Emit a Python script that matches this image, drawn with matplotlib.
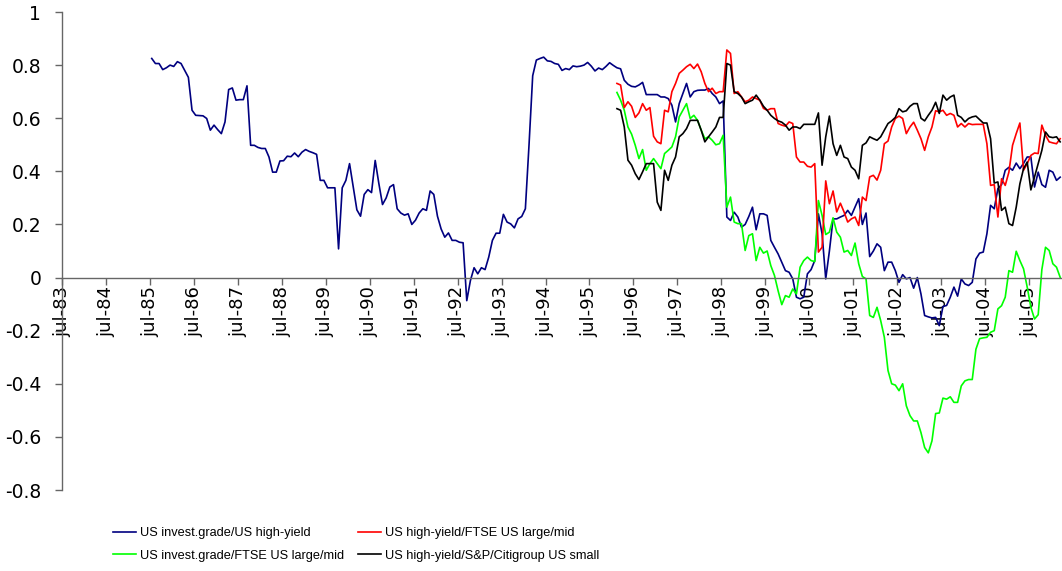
import numpy as np
import matplotlib
matplotlib.use("Agg")
import matplotlib.pyplot as plt

plt.rcParams["font.family"] = ["Liberation Sans", "DejaVu Sans"]

# months counted from jul-83 (index 0)
tick_labels = ["jul-%02d" % (y % 100) for y in range(83, 106)]

ig_hy_start = 24  # jul-85
ig_hy = [
    .825, .806, .806, .783, .79, .80, .795, .813, .806, .78, .754, .63, .611, .61, .609, .599,
    .555, .574, .557, .542, .586, .708, .714, .668, .67, .67, .722, .498, .498, .49, .486, .486,
    .454, .397, .397, .439, .44, .457, .455, .469, .455, .472,
    .482, .475, .47, .464, .366, .366, .338, .338, .338, .108, .338, .366, .429, .341, .255, .231,
    .313, .331, .32, .441, .354, .275, .30, .341, .35, .259, .243, .235, .24, .20, .216, .243,
    .259, .253, .326, .313, .231, .183, .152, .168, .14, .14, .133, .131,
    -.087, -.011, .037, .014, .037, .03, .077, .14, .167, .167, .238, .209, .202, .187, .221, .23,
    .259, .50, .76, .819, .825, .83, .816, .814, .806, .803, .78, .787, .783, .797, .794, .796,
    .80, .81, .796, .778, .789, .783, .795, .809, .799, .79, .786,
    .743, .728, .72, .718, .725, .735, .689, .689, .689, .689, .68, .68, .674, .649, .586, .655,
    .693, .731, .68, .70, .705, .706, .706, .712, .693, .68, .655, .665, .228, .215, .246, .228,
    .19, .20, .23, .265, .18, .24, .24, .234,
    .14, .114, .089, .058, .026, .02, -.005, -.074, -.08, -.074, .014, .03, .064, .24, .165, -.005,
    .10, .221, .221, .228, .234, .253, .234, .265, .297, .20, .243, .079, .10, .127, .114, .026,
    .058, .058, .026, -.018, .011, -.005, 0, -.04,
    0, -.062, -.143, -.148, -.152, -.15, -.181, -.109, -.105, -.074, -.036, -.07, -.005, -.024,
    -.03, -.018, .07, .092, .096, .165, .272, .259, .335, .35, .404, .415, .404, .431, .41, .43,
    .454, .454, .341, .397, .35, .34, .404, .397, .366, .378,
]

others_start = 151  # oct-95
hy_ftse = [
    .731, .725, .64, .662, .645, .603, .62, .655, .63, .64, .532, .511, .504, .63, .624, .70,
    .731, .769, .781, .794, .803, .787, .804, .775, .731, .70, .713, .693, .70, .70, .857, .844,
    .693, .70, .68, .662, .668, .68, .674, .668, .637, .63,
    .636, .636, .58, .574, .57, .586, .58, .454, .435, .435, .419, .416, .429, .096, .114, .364,
    .278, .326, .247, .28, .247, .209, .221, .228, .196, .303, .29, .379, .385, .367, .404, .504,
    .514, .567, .599, .608, .599, .542, .567, .585,
    .555, .523, .479, .53, .567, .628, .624, .63, .611, .618, .611, .567, .58, .567, .58, .576,
    .577, .577, .577, .504, .347, .35, .228, .372, .347, .397, .498, .542, .582, .404, .429, .46,
    .469, .467, .574, .536, .511, .507, .504, .523,
]

ig_ftse = [
    .697, .668, .63, .567, .54, .498, .448, .482, .404, .429, .448, .429, .41, .467, .479, .492,
    .53, .605, .63, .655, .599, .611, .592, .555, .523, .53, .517, .50, .504, .536, .265, .303,
    .209, .203, .203, .102, .158, .165, .064, .114, .092, .10,
    .045, .008, -.05, -.102, -.068, -.074, -.043, -.062, .039, .064, .077, .064, .06, .29, .234,
    .162, .171, .225, .171, .152, .096, .102, .083, .13, .052, .004, -.005, -.143, -.15, -.112,
    -.162, -.225, -.35, -.40, -.405, -.426, -.40, -.483, -.52, -.54,
    -.54, -.584, -.64, -.66, -.615, -.512, -.51, -.454, -.458, -.449, -.47, -.47, -.408, -.389,
    -.384, -.384, -.27, -.23, -.227, -.225, -.206, -.2, -.118, -.106, -.074, .026, .02, .099,
    .064, .033, -.036, -.112, -.156, -.14, .03, .114, .102, .052, .039, .001,
]

hy_small = [
    .636, .63, .567, .442, .423, .391, .369, .398, .429, .429, .429, .284, .253, .404, .366, .423,
    .454, .53, .542, .561, .592, .592, .592, .555, .511, .53, .548, .567, .603, .603, .806, .80,
    .70, .693, .68, .655, .662, .668, .687, .668, .645, .63,
    .611, .599, .59, .585, .574, .555, .567, .567, .561, .577, .577, .577, .577, .62, .423, .53,
    .608, .504, .46, .498, .454, .448, .416, .404, .372, .498, .507, .53, .523, .517, .53, .555,
    .58, .59, .603, .636, .624, .628, .645, .655,
    .655, .60, .59, .611, .63, .66, .618, .687, .668, .68, .687, .611, .603, .586, .599, .605,
    .608, .595, .582, .582, .523, .356, .36, .253, .265, .203, .196, .265, .353, .41, .435, .33,
    .379, .429, .479, .548, .53, .527, .53, .511,
]

series = [
    ("US invest.grade/US high-yield", ig_hy_start, ig_hy, "#000080"),
    ("US invest.grade/FTSE US large/mid", others_start, ig_ftse, "#00ff00"),
    ("US high-yield/FTSE US large/mid", others_start, hy_ftse, "#ff0000"),
    ("US high-yield/S&P/Citigroup US small", others_start, hy_small, "#000000"),
]

fig = plt.figure(figsize=(10.62, 5.71), dpi=100)
ax = fig.add_axes([62 / 1062, 81 / 571, 1 - 62 / 1062, 478 / 571])

for label, start, values, color in series:
    x = start + 0.5 + np.arange(len(values))
    ax.plot(x, values, color=color, lw=1.2, label=label)

ax.set_xlim(0, 273)
ax.set_ylim(-0.8, 1)
ax.set_yticks(np.arange(-0.8, 1.01, 0.2))
ax.set_yticklabels(["-0.8", "-0.6", "-0.4", "-0.2", "0", "0.2", "0.4", "0.6", "0.8", "1"])
ax.set_xticks(np.arange(0, 12 * len(tick_labels), 12))
ax.set_xticklabels(tick_labels)

for s in ("top", "right"):
    ax.spines[s].set_visible(False)
ax.spines["bottom"].set_position(("data", 0))
for s in ("left", "bottom"):
    ax.spines[s].set_color("#666666")
    ax.spines[s].set_linewidth(1.0)
ax.tick_params(axis="both", direction="out", length=5, width=1.0, color="#666666")
ax.tick_params(axis="y", pad=10, labelsize=13.5)
ax.tick_params(axis="x", pad=1, labelrotation=90, labelsize=13)
plt.setp(ax.get_yticklabels(), family="DejaVu Sans")
plt.setp(ax.get_xticklabels(), family="DejaVu Sans", va="top", ha="center")

handles, labels = ax.get_legend_handles_labels()
fig.legend(handles, labels, ncol=2, loc="upper left", bbox_to_anchor=(113 / 1062, 44 / 571),
           frameon=False, prop=dict(family="Liberation Sans", size=9.2),
           handlelength=1.8, handletextpad=0.3,
           columnspacing=1.1, labelspacing=0.85, borderpad=0, borderaxespad=0)

fig.savefig("out.png", dpi=100)
